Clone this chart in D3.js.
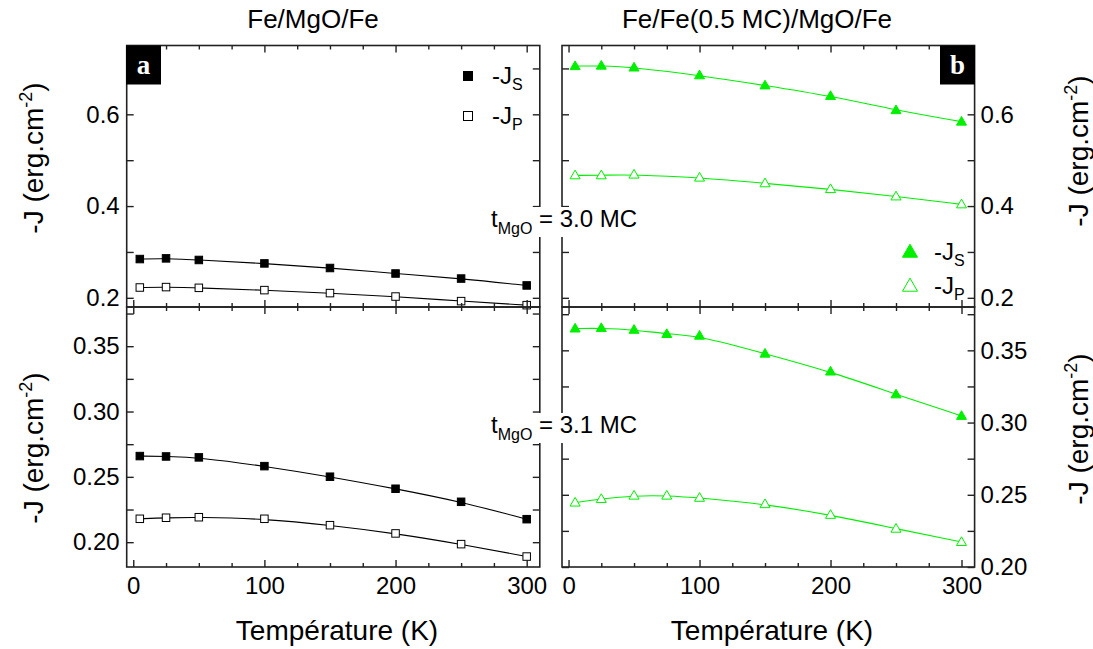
<!DOCTYPE html>
<html>
<head>
<meta charset="utf-8">
<script src="https://cdn.jsdelivr.net/npm/d3@7/dist/d3.min.js"></script>
<style>
  html, body { margin: 0; padding: 0; background: #fff; }
  svg { display: block; }
  text { font-family: "Liberation Sans", Arial, sans-serif; fill: #000; }
</style>
</head>
<body>
<svg id="chart" width="1093" height="649"></svg>
<script>
// ---------- data ----------
const tempA = [5, 25, 50, 100, 150, 200, 250, 300];
const tempB31 = [5, 25, 50, 75, 100, 150, 200, 250, 300];

// Fe/MgO/Fe, tMgO = 3.0 MC
const js30a = [0.2845, 0.286, 0.2825, 0.275, 0.265, 0.253, 0.242, 0.227];
const jp30a = [0.2225, 0.2234, 0.2218, 0.2168, 0.2103, 0.2028, 0.1928, 0.184];
// Fe/Fe(0.5 MC)/MgO/Fe, tMgO = 3.0 MC
const js30b = [0.705, 0.706, 0.702, 0.685, 0.663, 0.640, 0.609, 0.584];
const jp30b = [0.467, 0.467, 0.4686, 0.462, 0.4496, 0.437, 0.421, 0.4037];
// Fe/MgO/Fe, tMgO = 3.1 MC
const js31a = [0.2659, 0.2656, 0.2649, 0.2582, 0.2501, 0.2409, 0.2309, 0.2176];
const jp31a = [0.2179, 0.2187, 0.2191, 0.2179, 0.2130, 0.2067, 0.1985, 0.189];
// Fe/Fe(0.5 MC)/MgO/Fe, tMgO = 3.1 MC
const js31b = [0.3651, 0.3654, 0.3642, 0.3613, 0.3601, 0.3477, 0.3353, 0.3195, 0.3046];
const jp31b = [0.2446, 0.2471, 0.2494, 0.2494, 0.2479, 0.2435, 0.2361, 0.2265, 0.2173];

const xMajor = [0, 100, 200, 300];
const xMinor = [25, 50, 75, 125, 150, 175, 225, 250, 275];
const yTopMajor = [0.2, 0.4, 0.6];
const yTopMinor = [0.3, 0.5, 0.7];
const yBotMajor = [0.20, 0.25, 0.30, 0.35];
const yBotMinor = [0.225, 0.275, 0.325, 0.375];

const titles = ["Fe/MgO/Fe", "Fe/Fe(0.5 MC)/MgO/Fe"];
const xLabel = "Température (K)";

// ---------- layout ----------
const svg = d3.select("#chart");
const frameColor = "#222";
const green = "#00f000";
const colX = [[126.7, 539.8], [562, 974.6]];
const rowY = [[307, 45.5], [567, 307]];
const xDomain = [-5, 310];

const xs = colX.map(r => d3.scaleLinear().domain(xDomain).range(r));
const yTop = d3.scaleLinear().domain([0.18, 0.75]).range(rowY[0]);
const yBotA = d3.scaleLinear().domain([0.181, 0.38]).range(rowY[1]);
const yBotB = d3.scaleLinear().domain([0.2, 0.38]).range(rowY[1]);

const panels = [
  {col: 0, row: 0, y: yTop, major: yTopMajor, minor: yTopMinor, fmt: d3.format(".1f"), series: [
    {x: tempA, v: js30a, filled: true, color: "#000", shape: "square"},
    {x: tempA, v: jp30a, filled: false, color: "#000", shape: "square"}]},
  {col: 1, row: 0, y: yTop, major: yTopMajor, minor: yTopMinor, fmt: d3.format(".1f"), series: [
    {x: tempA, v: js30b, filled: true, color: green, shape: "triangle"},
    {x: tempA, v: jp30b, filled: false, color: green, shape: "triangle"}]},
  {col: 0, row: 1, y: yBotA, major: yBotMajor, minor: yBotMinor, fmt: d3.format(".2f"), series: [
    {x: tempA, v: js31a, filled: true, color: "#000", shape: "square"},
    {x: tempA, v: jp31a, filled: false, color: "#000", shape: "square"}]},
  {col: 1, row: 1, y: yBotB, major: yBotMajor, minor: yBotMinor, fmt: d3.format(".2f"), series: [
    {x: tempB31, v: js31b, filled: true, color: green, shape: "triangle"},
    {x: tempB31, v: jp31b, filled: false, color: green, shape: "triangle"}]}
];

function styleAxis(g, showText) {
  g.select(".domain").remove();
  g.selectAll(".tick line").attr("stroke", frameColor).attr("stroke-width", 1.4);
  g.selectAll(".tick text").attr("font-size", 24).attr("font-family", "Liberation Sans, Arial, sans-serif").attr("fill", "#000");
  if (!showText) g.selectAll(".tick text").remove();
}

function drawMarker(g, shape, cx, cy, size, filled, color) {
  if (shape === "square") {
    g.append("rect").attr("x", cx - size / 2).attr("y", cy - size / 2)
      .attr("width", size).attr("height", size)
      .attr("fill", filled ? color : "#fff").attr("stroke", color).attr("stroke-width", 1);
  } else {
    const h = size * 0.87;
    g.append("path")
      .attr("d", `M${cx},${cy - h * 0.6}L${cx + size / 2},${cy + h * 0.4}L${cx - size / 2},${cy + h * 0.4}Z`)
      .attr("fill", filled ? color : "#fff").attr("stroke", color).attr("stroke-width", 1);
  }
}

panels.forEach(p => {
  const x = xs[p.col];
  const [x0, x1] = colX[p.col];
  const [yb, yt] = rowY[p.row];
  const g = svg.append("g");

  // data curves (smooth fits through the measured points)
  p.series.forEach(s => {
    const pts = s.x.map((t, i) => [t, s.v[i]]);
    const line = d3.line().x(d => x(d[0])).y(d => p.y(d[1])).curve(d3.curveBasis);
    g.append("path").attr("d", line(pts)).attr("fill", "none").attr("stroke", s.color).attr("stroke-width", 1.1);
  });
  p.series.forEach(s => {
    s.x.forEach((t, i) => drawMarker(g, s.shape, x(t), p.y(s.v[i]), s.shape === "square" ? 7.5 : 10, s.filled, s.color));
  });

  // frame
  g.append("rect").attr("x", x0).attr("y", yt).attr("width", x1 - x0).attr("height", yb - yt)
    .attr("fill", "none").attr("stroke", frameColor).attr("stroke-width", 1.6);

  // x axes
  const bottomLabels = p.row === 1;
  const bA = g.append("g").attr("transform", `translate(0,${yb})`)
    .call(d3.axisBottom(x).tickValues(xMajor).tickSize(-7).tickPadding(10).tickFormat(d3.format("d")));
  styleAxis(bA, bottomLabels);
  const bm = g.append("g").attr("transform", `translate(0,${yb})`)
    .call(d3.axisBottom(x).tickValues(xMinor).tickSize(-4).tickFormat(""));
  styleAxis(bm, false);
  const tA = g.append("g").attr("transform", `translate(0,${yt})`)
    .call(d3.axisTop(x).tickValues(xMajor).tickSize(-7).tickFormat(""));
  styleAxis(tA, false);
  const tm = g.append("g").attr("transform", `translate(0,${yt})`)
    .call(d3.axisTop(x).tickValues(xMinor).tickSize(-4).tickFormat(""));
  styleAxis(tm, false);

  // y axes
  const lA = g.append("g").attr("transform", `translate(${x0},0)`)
    .call(d3.axisLeft(p.y).tickValues(p.major).tickSize(-7).tickPadding(7).tickFormat(p.fmt));
  styleAxis(lA, p.col === 0);
  const lm = g.append("g").attr("transform", `translate(${x0},0)`)
    .call(d3.axisLeft(p.y).tickValues(p.minor).tickSize(-7).tickFormat(""));
  styleAxis(lm, false);
  const rA = g.append("g").attr("transform", `translate(${x1},0)`)
    .call(d3.axisRight(p.y).tickValues(p.major).tickSize(-7).tickPadding(6).tickFormat(p.fmt));
  styleAxis(rA, p.col === 1);
  const rm = g.append("g").attr("transform", `translate(${x1},0)`)
    .call(d3.axisRight(p.y).tickValues(p.minor).tickSize(-7).tickFormat(""));
  styleAxis(rm, false);
});

// panel letter boxes
function letterBox(bx, by, letter) {
  svg.append("rect").attr("x", bx).attr("y", by).attr("width", 35).attr("height", 39).attr("fill", "#000");
  svg.append("text").attr("x", bx + 17.5).attr("y", by + 28).attr("text-anchor", "middle")
    .attr("font-weight", "bold").attr("font-size", 27)
    .style("fill", "#fff").style("font-family", "'Liberation Serif', 'Times New Roman', serif").text(letter);
}
letterBox(126, 45.5, "a");
letterBox(940, 45.5, "b");

// titles
svg.append("text").attr("x", 313).attr("y", 28).attr("text-anchor", "middle").attr("font-size", 26).text(titles[0]);
svg.append("text").attr("x", 757).attr("y", 28).attr("text-anchor", "middle").attr("font-size", 26).text(titles[1]);

// x labels
[337, 772].forEach(cx => {
  svg.append("text").attr("x", cx).attr("y", 640).attr("text-anchor", "middle").attr("font-size", 28).text(xLabel);
});

// y labels
function yLabel(cx, cy) {
  const t = svg.append("text").attr("transform", `translate(${cx},${cy}) rotate(-90)`)
    .attr("text-anchor", "middle").attr("font-size", 28);
  t.append("tspan").text("-J  (erg.cm");
  t.append("tspan").attr("dy", -11).attr("font-size", 18).text("-2");
  t.append("tspan").attr("dy", 11).text(")");
}
yLabel(43, 158);
yLabel(43, 448);
yLabel(1088, 151);
yLabel(1088, 429);

// legends
function legend(mx, my, shape, filled, color, sub, size) {
  drawMarker(svg, shape, mx, my, size, filled, color);
  const t = svg.append("text").attr("x", mx + 24).attr("y", my + 8).attr("font-size", 24);
  t.append("tspan").text("-J");
  t.append("tspan").attr("dy", 6).attr("font-size", 16).text(sub);
}
legend(468, 76, "square", true, "#000", "S", 9);
legend(468, 116, "square", false, "#000", "P", 9);
legend(910, 252, "triangle", true, green, "S", 15);
legend(910, 286, "triangle", false, green, "P", 15);

// thickness labels with white background
function tLabel(x0, base, val) {
  const g = svg.append("g");
  const bg = g.append("rect").attr("fill", "#fff");
  const t = g.append("text").attr("x", x0).attr("y", base).attr("font-size", 24);
  t.append("tspan").text("t");
  t.append("tspan").attr("dy", 7).attr("font-size", 16).text("MgO");
  t.append("tspan").attr("dy", -7).text(" = " + val + " MC");
  const bb = t.node().getBBox();
  bg.attr("x", bb.x - 1).attr("y", bb.y + 2).attr("width", bb.width + 2).attr("height", bb.height - 2);
}
tLabel(491, 227, "3.0");
tLabel(491, 433, "3.1");
</script>
</body>
</html>
